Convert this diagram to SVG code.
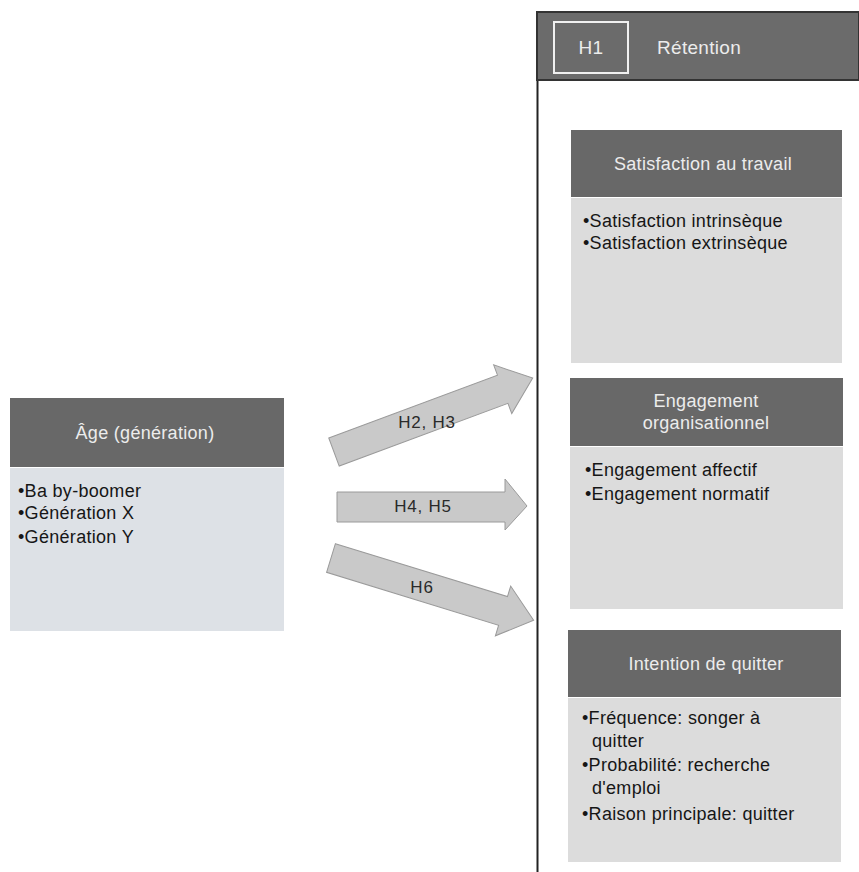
<svg xmlns="http://www.w3.org/2000/svg" width="859" height="872" viewBox="0 0 859 872">
<defs>
<style>
.hdr{fill:#686868;}
.body{fill:#dcdcdc;}
.bodyb{fill:#dde1e6;}
.ht{font-family:"Liberation Sans",Arial,sans-serif;font-size:18px;fill:#ececec;text-anchor:middle;letter-spacing:0.3px;}
.bt{font-family:"Liberation Sans",Arial,sans-serif;font-size:18px;fill:#161616;letter-spacing:0.3px;}
.arrow{fill:#c9c9c9;stroke:#9a9a9a;stroke-width:1;}
.al{font-family:"Liberation Sans",Arial,sans-serif;font-size:17px;fill:#2a2a2a;text-anchor:middle;letter-spacing:0.8px;}
</style>
</defs>
<rect width="859" height="872" fill="#ffffff"/>

<g id="retention">
<line x1="537.5" y1="12" x2="537.5" y2="872" stroke="#222" stroke-width="2"/>
<rect x="537" y="12" width="322" height="68" fill="#6b6b6b" stroke="#333" stroke-width="2"/>
<rect x="554" y="22" width="74" height="51" fill="none" stroke="#f0f0f0" stroke-width="2"/>
<text x="591" y="54" class="ht" style="font-size:19px">H1</text>
<text x="657" y="54" class="ht" style="font-size:19px;text-anchor:start">Rétention</text>
</g>

<g id="satisfaction">
<rect x="571" y="130" width="271" height="67" class="hdr"/>
<rect x="571" y="198" width="271" height="165" class="body"/>
<text x="703" y="170" class="ht">Satisfaction au travail</text>
<text x="583" y="227" class="bt">•Satisfaction intrinsèque</text>
<text x="583" y="249" class="bt">•Satisfaction extrinsèque</text>
</g>

<g id="engagement">
<rect x="570" y="378" width="273" height="68" class="hdr"/>
<rect x="570" y="447" width="273" height="162" class="body"/>
<text x="706" y="407" class="ht">Engagement</text>
<text x="706" y="429" class="ht">organisationnel</text>
<text x="585" y="476" class="bt">•Engagement affectif</text>
<text x="585" y="500" class="bt">•Engagement normatif</text>
</g>

<g id="intention">
<rect x="568" y="630" width="273" height="67" class="hdr"/>
<rect x="568" y="698" width="273" height="164" class="body"/>
<text x="706" y="670" class="ht">Intention de quitter</text>
<text x="582" y="724" class="bt">•Fréquence: songer à</text>
<text x="592" y="747" class="bt">quitter</text>
<text x="582" y="771" class="bt">•Probabilité: recherche</text>
<text x="592" y="794" class="bt">d'emploi</text>
<text x="582" y="820" class="bt">•Raison principale: quitter</text>
</g>

<g id="age">
<rect x="10" y="398" width="274" height="69" class="hdr"/>
<rect x="10" y="468" width="274" height="163" class="bodyb"/>
<text x="145" y="439" class="ht">Âge (génération)</text>
<text x="18" y="497" class="bt">•Ba by-boomer</text>
<text x="18" y="519" class="bt">•Génération X</text>
<text x="18" y="543" class="bt">•Génération Y</text>
</g>

<g id="connectors">
<path class="arrow" transform="translate(334,452) rotate(-20.4)" d="M0,-15 L180,-15 L180,-26 L212,0 L180,26 L180,15 L0,15 Z"/>
<path class="arrow" d="M337,492 L505,492 L505,479 L527,506 L505,530 L505,522 L337,522 Z"/>
<path class="arrow" transform="translate(331,558) rotate(17.1)" d="M0,-15 L180,-15 L180,-26 L212,0 L180,26 L180,15 L0,15 Z"/>
<text x="427" y="428" class="al">H2, H3</text>
<text x="423" y="512" class="al">H4, H5</text>
<text x="422" y="593" class="al">H6</text>
</g>
</svg>
